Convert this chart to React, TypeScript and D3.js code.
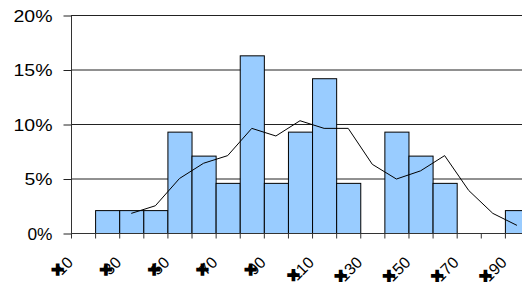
import React, { useRef, useEffect } from 'react';
import * as d3 from 'd3';

// 19 bins, every second one carries a label
const bins = d3.range(19).map((i) => `b${i}`);
const binShare = [0, 2.1, 2.1, 2.1, 9.3, 7.1, 4.6, 16.3, 4.6, 9.3, 14.2, 4.6, 0, 9.3, 7.1, 4.6, 0, 0, 2.1];
const trendShare = [null, null, 1.8, 2.5, 5.0, 6.4, 7.1, 9.6, 8.9, 10.3, 9.6, 9.6, 6.3, 4.95, 5.7, 7.1, 3.9, 1.8, 0.7];
const xLabels = ['10', '30', '50', '70', '90', '110', '130', '150', '170', '190'];
const yTicks = [0, 5, 10, 15, 20];

const App = () => {
  const ref = useRef(null);

  useEffect(() => {
    const svg = d3.select(ref.current);
    svg.selectAll('*').remove();

    const left = 71, right = 529, top = 15, bottom = 233;
    const x = d3.scaleBand().domain(bins).range([left, right]).padding(0);
    const y = d3.scaleLinear().domain([0, 20]).range([bottom, top]);
    const font = 'Liberation Sans, Arial, sans-serif';

    // gridlines
    svg.append('g')
      .selectAll('line')
      .data(yTicks.filter((d) => d > 0))
      .enter()
      .append('line')
      .attr('x1', left)
      .attr('x2', 522)
      .attr('y1', (d) => y(d) + 0.5)
      .attr('y2', (d) => y(d) + 0.5)
      .attr('stroke', '#222')
      .attr('stroke-width', 1);

    // bars
    svg.append('g')
      .selectAll('rect')
      .data(binShare.map((v, i) => ({ v, k: bins[i] })).filter((d) => d.v > 0))
      .enter()
      .append('rect')
      .attr('x', (d) => x(d.k) + 0.5)
      .attr('y', (d) => y(d.v) + 0.5)
      .attr('width', x.bandwidth())
      .attr('height', (d) => bottom - y(d.v))
      .attr('fill', '#99ccff')
      .attr('stroke', '#000')
      .attr('stroke-width', 1);

    // trend line
    const line = d3.line()
      .defined((d) => d[1] != null)
      .x((d) => d[0])
      .y((d) => y(d[1]));
    svg.append('path')
      .datum(trendShare.map((v, i) => [x(bins[i]) + x.bandwidth() / 2, v]))
      .attr('d', line)
      .attr('fill', 'none')
      .attr('stroke', '#000')
      .attr('stroke-width', 1);

    // y axis
    const yAxis = svg.append('g')
      .attr('transform', `translate(${left + 0.5},0.5)`)
      .call(d3.axisLeft(y).tickValues(yTicks).tickSize(8).tickFormat((d) => `${d}%`));
    yAxis.select('.domain').attr('stroke', '#333').attr('d', `M0,${top}V${bottom}`);
    yAxis.selectAll('.tick line').attr('stroke', '#222');
    yAxis.selectAll('.tick text')
      .attr('x', -19)
      .attr('dy', '0.36em')
      .attr('font-family', font)
      .attr('font-size', 16)
      .attr('textLength', (d) => (d === 0 ? 25 : d === 5 ? 28 : 39))
      .attr('lengthAdjust', 'spacingAndGlyphs')
      .attr('fill', '#000');

    // x axis
    const xAxis = svg.append('g')
      .attr('transform', `translate(0,${bottom + 0.5})`);
    xAxis.append('line')
      .attr('x1', left)
      .attr('x2', 522)
      .attr('stroke', '#333');
    xAxis.selectAll('line.tk')
      .data(bins)
      .enter()
      .append('line')
      .attr('class', 'tk')
      .attr('x1', (d) => x(d) + 0.5)
      .attr('x2', (d) => x(d) + 0.5)
      .attr('y1', 0)
      .attr('y2', 5)
      .attr('stroke', '#333');

    const lab = xAxis.selectAll('g.lab')
      .data(xLabels)
      .enter()
      .append('g')
      .attr('class', 'lab')
      .attr('transform', (d, i) => `translate(${x(bins[i * 2]) + 3},${30}) rotate(-45)`);
    lab.append('text')
      .attr('class', 'num')
      .attr('text-anchor', 'end')
      .attr('font-family', font)
      .attr('font-size', 16)
      .attr('fill', '#000')
      .text((d) => d);
    lab.each(function () {
      const g = d3.select(this);
      const len = g.select('text.num').node().getComputedTextLength();
      g.append('text')
        .attr('x', -len + 2)
        .attr('y', -7)
        .attr('text-anchor', 'middle')
        .attr('dominant-baseline', 'central')
        .attr('font-family', 'DejaVu Sans')
        .attr('font-weight', 'bold')
        .attr('font-size', 17)
        .attr('fill', '#000')
        .text('\u2716');
    });
  }, []);

  return (
    <svg
      ref={ref}
      width="522"
      height="288"
      style={{ position: 'absolute', left: 0, top: 0, display: 'block', background: '#fff' }}
    ></svg>
  );
};

export default App;
